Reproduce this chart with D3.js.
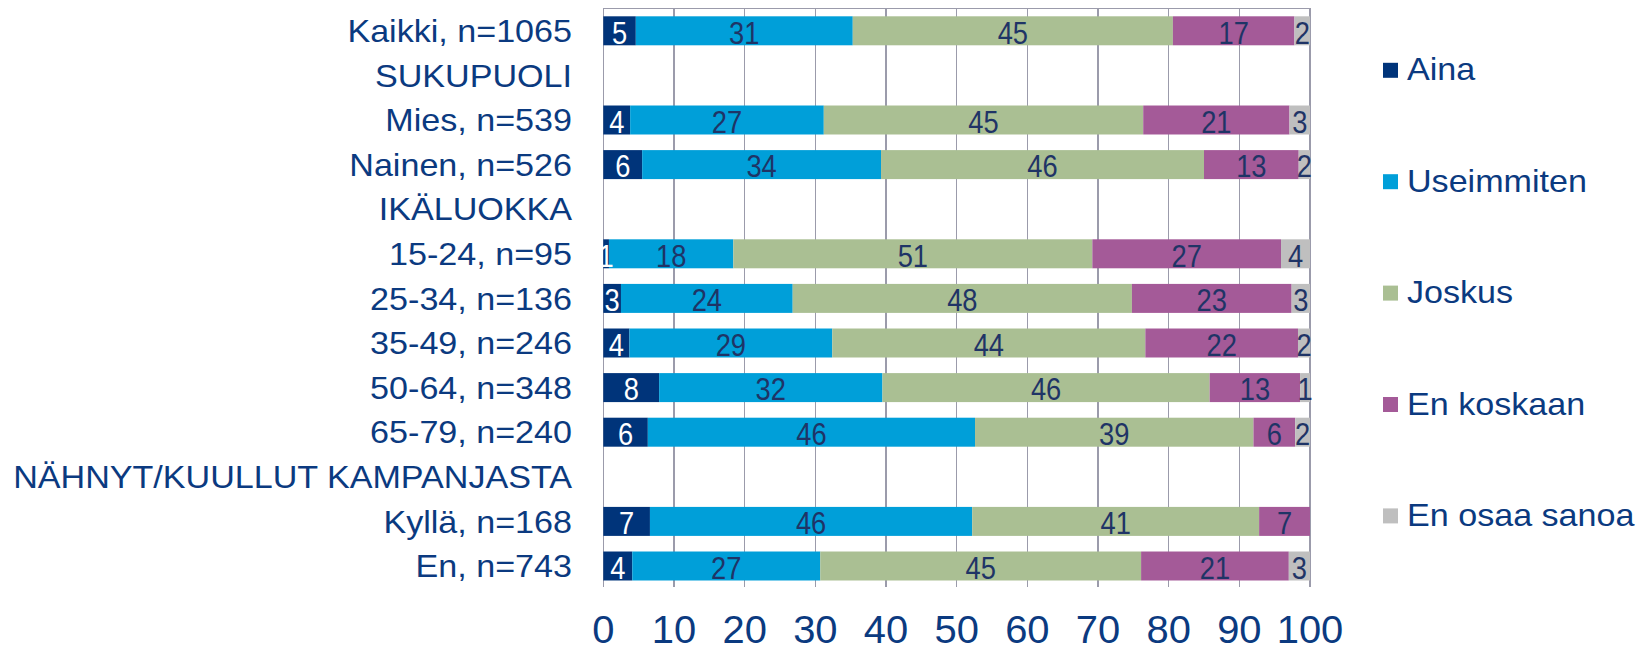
<!DOCTYPE html>
<html>
<head>
<meta charset="utf-8">
<style>
  body { margin: 0; background: #fff; }
  svg { display: block; font-family: "Liberation Sans", Arial, sans-serif; }
  .grid line { stroke: #9b9bab; stroke-width: 1.5px; shape-rendering: crispEdges; }
  .cat { fill: #0b3a80; font-size: 31px; }
  .tick-label { fill: #0b3a80; font-size: 38px; }
  .legend text { fill: #0b3a80; font-size: 31px; }
  .val { font-size: 31px; }
</style>
</head>
<body>
<svg width="1637" height="647"></svg>
<script src="https://cdn.jsdelivr.net/npm/d3@7"></script>
<script>

// rows (section headers have no bars)
var categories = ["Kaikki, n=1065", "SUKUPUOLI", "Mies, n=539", "Nainen, n=526", "IKÄLUOKKA",
  "15-24, n=95", "25-34, n=136", "35-49, n=246", "50-64, n=348", "65-79, n=240",
  "NÄHNYT/KUULLUT KAMPANJASTA", "Kyllä, n=168", "En, n=743"];

var seriesNames = ["Aina", "Useimmiten", "Joskus", "En koskaan", "En osaa sanoa"];
var seriesColors = ["#00347a", "#009fd9", "#aabf93", "#a45a98", "#bfbfbf"];

// percent values per series, one entry per row (null = header row)
var aina        = [4.6, null, 3.8, 5.5, null, 0.8, 2.5, 3.7, 7.9, 6.3, null, 6.6, 4.1];
var useimmiten  = [30.7, null, 27.4, 33.8, null, 17.6, 24.3, 28.7, 31.6, 46.3, null, 45.6, 26.6];
var joskus      = [45.3, null, 45.2, 45.7, null, 50.8, 48.0, 44.3, 46.3, 39.4, null, 40.6, 45.4];
var enKoskaan   = [17.2, null, 20.7, 13.4, null, 26.7, 22.6, 21.6, 12.8, 5.9, null, 7.2, 20.9];
var enOsaa      = [2.2, null, 2.9, 1.6, null, 4.1, 2.6, 1.7, 1.4, 2.1, null, 0, 3.0];

var xTicks = [0, 10, 20, 30, 40, 50, 60, 70, 80, 90, 100];

var seriesValues = [aina, useimmiten, joskus, enKoskaan, enOsaa];
var stretch = 1.1; // axis/legend text in the original is a little wide
var squeeze = 0.88; // ...and the bar labels a little narrow

var svg = d3.select("svg");

var x = d3.scaleLinear().domain([0, 100]).range([603.3, 1310]);
var y = d3.scaleBand().domain(categories).range([8.5, 588.3])
    .paddingInner(0.35).paddingOuter(0.175);

var plotTop = 8.3, plotBottom = 587;

// gridlines + top border
var grid = svg.append("g").attr("class", "grid");
grid.selectAll("line.v")
    .data(xTicks)
  .enter().append("line")
    .attr("class", "v")
    .attr("x1", function(d) { return x(d); })
    .attr("x2", function(d) { return x(d); })
    .attr("y1", plotTop)
    .attr("y2", plotBottom);
grid.append("line")
    .attr("x1", x(0)).attr("x2", x(100))
    .attr("y1", plotTop).attr("y2", plotTop);

// stack the rows
var rows = categories.map(function(c, i) {
  var x0 = 0;
  return seriesValues.map(function(s, k) {
    var v = s[i];
    var seg = {cat: c, k: k, v: v, x0: x0, x1: x0 + (v || 0)};
    x0 = seg.x1;
    return seg;
  }).filter(function(d) { return d.v !== null; });
});
var segs = d3.merge(rows);

svg.append("g").selectAll("rect")
    .data(segs.filter(function(d) { return d.v > 0; }))
  .enter().append("rect")
    .attr("x", function(d) { return x(d.x0); })
    .attr("width", function(d) { return x(d.x1) - x(d.x0); })
    .attr("y", function(d) { return y(d.cat); })
    .attr("height", y.bandwidth())
    .attr("fill", function(d) { return seriesColors[d.k]; });

// value labels
svg.append("g").selectAll("text")
    .data(segs.filter(function(d) { return Math.round(d.v) > 0; }))
  .enter().append("text")
    .attr("class", "val")
    .attr("text-anchor", "middle")
    .attr("transform", function(d) {
      var cx = (x(d.x0) + x(d.x1)) / 2,
          cy = y(d.cat) + y.bandwidth() / 2 + 12.8;
      return "translate(" + cx + "," + cy + ") scale(" + squeeze + ",1)";
    })
    .attr("fill", function(d) { return d.k === 0 ? "#ffffff" : "#1f3466"; })
    .text(function(d) { return Math.round(d.v); });

// category labels
svg.append("g").selectAll("text")
    .data(categories)
  .enter().append("text")
    .attr("class", "cat")
    .attr("text-anchor", "end")
    .attr("transform", function(d) {
      return "translate(572," + (y(d) + y.bandwidth() / 2 + 11.2) + ") scale(" + stretch + ",1)";
    })
    .text(function(d) { return d; });

// x tick labels
svg.append("g").selectAll("text")
    .data(xTicks)
  .enter().append("text")
    .attr("class", "tick-label")
    .attr("text-anchor", "middle")
    .attr("transform", function(d) { return "translate(" + x(d) + ",643) scale(1.05,1)"; })
    .text(function(d) { return d; });

// legend
var legend = svg.append("g").attr("class", "legend")
  .selectAll("g")
    .data(seriesNames)
  .enter().append("g")
    .attr("transform", function(d, i) { return "translate(1383," + (70.3 + i * 111.4) + ")"; });

legend.append("rect")
    .attr("x", 0).attr("y", -7.5)
    .attr("width", 15).attr("height", 15)
    .attr("fill", function(d, i) { return seriesColors[i]; });

legend.append("text")
    .attr("transform", "translate(24,10) scale(" + stretch + ",1)")
    .text(function(d) { return d; });

</script>
</body>
</html>
